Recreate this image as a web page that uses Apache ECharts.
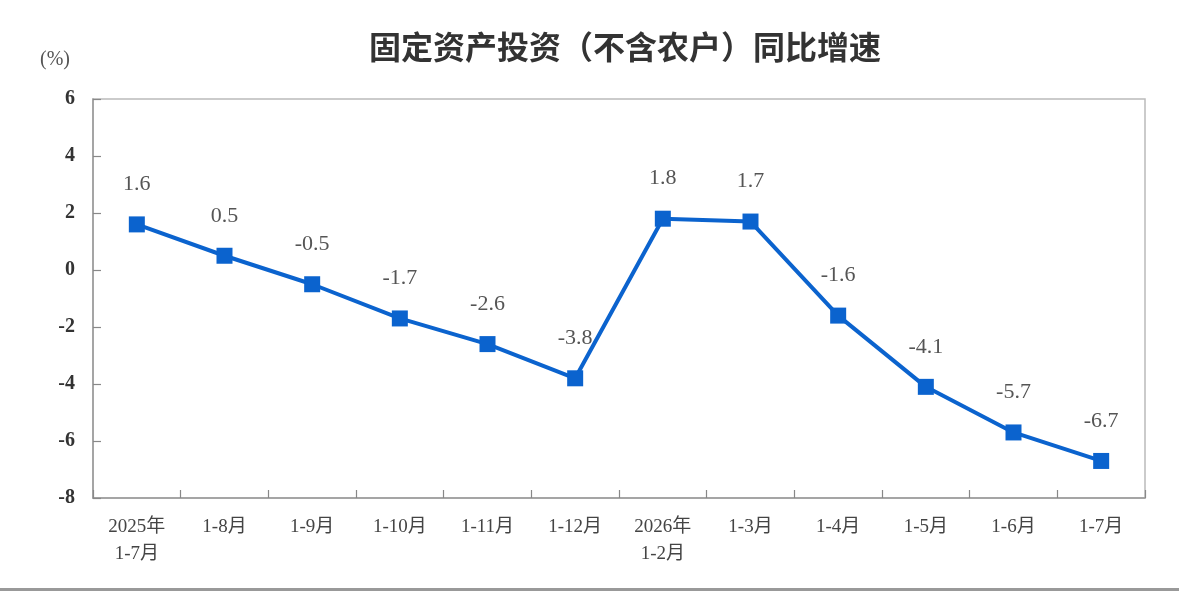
<!DOCTYPE html>
<html><head><meta charset="utf-8">
<script src="https://cdn.jsdelivr.net/npm/echarts@6/dist/echarts.min.js"></script>
<style>html,body{margin:0;padding:0;background:#fff}#c{width:1179px;height:591px}</style>
</head><body><div id="c"></div>
<script>
const categories = ['2025年\n1-7月','1-8月','1-9月','1-10月','1-11月','1-12月','2026年\n1-2月','1-3月','1-4月','1-5月','1-6月','1-7月'];
const growth = [1.6, 0.5, -0.5, -1.7, -2.6, -3.8, 1.8, 1.7, -1.6, -4.1, -5.7, -6.7];
const yTicks = {min: -8, max: 6, interval: 2};
const titleText = '固定资产投资（不含农户）同比增速';
const unitText = '(%)';

const serif = '"Liberation Serif", "Times New Roman", "Noto Sans CJK SC", serif';
const chart = echarts.init(document.getElementById('c'));
chart.setOption({
  backgroundColor: '#fff',
  animation: false,
  title: {
    text: titleText, left: 620, top: 26, textAlign: 'center',
    textStyle: {fontFamily: '"Noto Sans CJK SC", sans-serif', fontSize: 32, fontWeight: 'bold', color: '#333'}
  },
  graphic: [
    {type: 'text', left: 40, top: 50, style: {text: unitText, font: '20px ' + serif, fill: '#555'}},
    {type: 'rect', left: 0, top: 588, shape: {width: 1179, height: 3}, style: {fill: '#999'}}
  ],
  grid: {left: 93, right: 34, top: 99, bottom: 93, show: true, borderColor: '#bbb', borderWidth: 1.5, z: 0},
  xAxis: {
    type: 'category', data: categories, boundaryGap: true, z: 3,
    axisLine: {show: true, onZero: false, lineStyle: {color: '#999', width: 1.5}},
    axisTick: {show: true, alignWithLabel: false, interval: 0, inside: true, length: 8, lineStyle: {color: '#888', width: 1.2}},
    axisLabel: {margin: 16, fontFamily: serif, fontSize: 19, color: '#444', lineHeight: 27, interval: 0}
  },
  yAxis: {
    type: 'value', min: yTicks.min, max: yTicks.max, interval: yTicks.interval, z: 3,
    axisLine: {show: true, lineStyle: {color: '#999', width: 1.5}},
    axisTick: {show: true, inside: true, length: 8, lineStyle: {color: '#888', width: 1.2}},
    splitLine: {show: false},
    axisLabel: {margin: 18, fontFamily: serif, fontSize: 20, fontWeight: 'bold', color: '#333'}
  },
  series: [{
    type: 'line', data: growth,
    symbol: 'rect', symbolSize: 16,
    lineStyle: {color: '#0b63ce', width: 4},
    itemStyle: {color: '#0b63ce'},
    label: {show: true, position: 'top', distance: 21, fontFamily: serif, fontSize: 22, color: '#555'}
  }]
});
</script></body></html>
